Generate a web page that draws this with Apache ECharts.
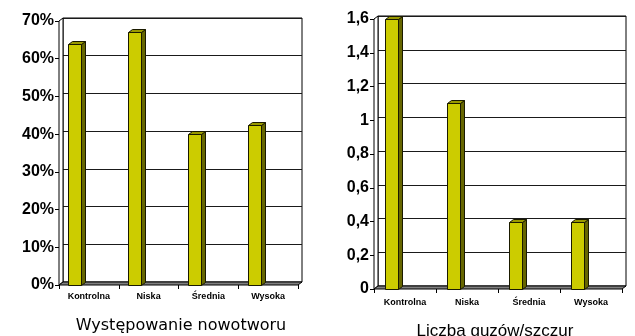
<!DOCTYPE html>
<html>
<head>
<meta charset="utf-8">
<script src="https://cdn.jsdelivr.net/npm/echarts@6/dist/echarts.min.js"></script>
<style>
  html, body { margin: 0; padding: 0; background: #fff; }
  #chart { width: 635px; height: 336px; }
</style>
</head>
<body>
<div id="chart"></div>
<script>
// Groups (doses)
const categories = ['Kontrolna', 'Niska', 'Średnia', 'Wysoka'];
// Tumour incidence per group (fraction)
const incidence = [0.64, 0.67, 0.40, 0.425];
// Number of tumours per rat
const tumorsPerRat = [1.6, 1.1, 0.4, 0.4];
// Axis ranges / tick steps
const incidenceAxis = { max: 0.7, step: 0.1 };
const tumorAxis = { max: 1.6, step: 0.2 };
// Titles under each panel
const titles = ['Występowanie nowotworu', 'Liczba guzów/szczur'];

// Pseudo-3D geometry
const DX = 4, DY = 3;      // depth offset of the back wall
const BAR_W = 13;          // front face width
const BAR_SHIFT = -14;     // bar offset from category centre

const FONT = 'Liberation Sans, Arial, sans-serif';

const frontGrids = [
  { left: 59, top: 21, width: 239, height: 264 },
  { left: 374, top: 19, width: 248, height: 270 }
];
const backGrids = frontGrids.map(g => ({
  left: g.left + DX, top: g.top - DY, width: g.width, height: g.height,
  show: true, borderColor: '#000', borderWidth: 1, backgroundColor: '#fff'
}));

function pctLabel(v) { return Math.round(v * 100) + '%'; }
function commaLabel(v) { return String(Math.round(v * 10) / 10).replace('.', ','); }

// Floor and left side wall of the 3D box
function renderBox(params) {
  const cs = params.coordSys;
  const x0 = cs.x, x1 = cs.x + cs.width, yt = cs.y, yb = cs.y + cs.height;
  return {
    type: 'group',
    children: [
      {
        type: 'polygon',
        shape: { points: [[x0, yt], [x0 + DX, yt - DY], [x0 + DX, yb - DY], [x0, yb]] },
        style: { fill: '#fff', stroke: '#000', lineWidth: 1 }
      },
      {
        type: 'polygon',
        shape: { points: [[x0, yb], [x1, yb], [x1 + DX, yb - DY], [x0 + DX, yb - DY]] },
        style: { fill: '#808080', stroke: '#000', lineWidth: 1 }
      }
    ]
  };
}

// 3D column: front face, top face and right side face
function renderBar(params, api) {
  const idx = api.value(0);
  const top = api.coord([idx, api.value(1)]);
  const base = api.coord([idx, 0]);
  const x = Math.round(top[0] + BAR_SHIFT - BAR_W / 2) + 0.5;
  const yT = Math.round(top[1]) + 0.5;
  const yB = Math.round(base[1]) + 0.5;
  const w = BAR_W;
  const stroke = '#1a1a00';
  return {
    type: 'group',
    children: [
      {
        type: 'polygon',
        shape: { points: [[x + w, yT], [x + w + DX, yT - DY], [x + w + DX, yB - DY], [x + w, yB]] },
        style: { fill: '#666600', stroke: stroke, lineWidth: 1 }
      },
      {
        type: 'polygon',
        shape: { points: [[x, yT], [x + DX, yT - DY], [x + w + DX, yT - DY], [x + w, yT]] },
        style: { fill: '#999900', stroke: stroke, lineWidth: 1 }
      },
      {
        type: 'rect',
        shape: { x: x, y: yT, width: w, height: yB - yT },
        style: { fill: '#cccc00', stroke: stroke, lineWidth: 1 }
      }
    ]
  };
}

function frontX(gridIndex, labelMargin) {
  return {
    type: 'category', gridIndex: gridIndex, data: categories,
    axisLine: { show: false },
    axisTick: { show: true, length: 4, lineStyle: { color: '#000' } },
    axisLabel: { color: '#000', fontFamily: FONT, fontWeight: 'bold', fontSize: 9, margin: labelMargin },
    splitLine: { show: false }
  };
}
function backX(gridIndex) {
  return {
    type: 'category', gridIndex: gridIndex, data: categories,
    axisLine: { show: false }, axisTick: { show: false }, axisLabel: { show: false },
    splitLine: { show: false }
  };
}
function frontY(gridIndex, ax, fmt) {
  return {
    type: 'value', gridIndex: gridIndex, min: 0, max: ax.max, interval: ax.step,
    axisLine: { show: true, lineStyle: { color: '#000', width: 1 } },
    axisTick: { show: true, inside: false, length: 4, lineStyle: { color: '#000' } },
    axisLabel: { color: '#000', fontFamily: FONT, fontWeight: 'bold', fontSize: 16, margin: 5, formatter: fmt },
    splitLine: { show: false }
  };
}
function backY(gridIndex, ax) {
  return {
    type: 'value', gridIndex: gridIndex, min: 0, max: ax.max, interval: ax.step,
    axisLine: { show: false }, axisTick: { show: false }, axisLabel: { show: false },
    splitLine: { show: true, lineStyle: { color: '#1a1a1a', width: 1 } }
  };
}

const chart = echarts.init(document.getElementById('chart'), null, { renderer: 'canvas' });

chart.setOption({
  animation: false,
  backgroundColor: '#fff',
  title: [
    {
      text: titles[0], left: 176, top: 313, textAlign: 'center',
      textStyle: { fontFamily: 'DejaVu Sans, sans-serif', fontWeight: 'normal', fontSize: 16, color: '#000' }
    },
    {
      text: titles[1], left: 490, top: 318, textAlign: 'center',
      textStyle: { fontFamily: FONT, fontWeight: 'normal', fontSize: 17, color: '#000' }
    }
  ],
  // grids 0,1 = back walls; grids 2,3 = front axes
  grid: [backGrids[0], backGrids[1], frontGrids[0], frontGrids[1]],
  xAxis: [backX(0), backX(1), frontX(2, 7), frontX(3, 9)],
  yAxis: [
    backY(0, incidenceAxis), backY(1, tumorAxis),
    frontY(2, incidenceAxis, pctLabel), frontY(3, tumorAxis, commaLabel)
  ],
  series: [
    {
      type: 'custom', xAxisIndex: 2, yAxisIndex: 2, z: 1, silent: true,
      renderItem: renderBox, data: [[0, 0]], clip: false
    },
    {
      type: 'custom', xAxisIndex: 3, yAxisIndex: 3, z: 1, silent: true,
      renderItem: renderBox, data: [[0, 0]], clip: false
    },
    {
      type: 'custom', xAxisIndex: 2, yAxisIndex: 2, z: 3,
      renderItem: renderBar, clip: false,
      encode: { x: 0, y: 1 },
      data: incidence.map((v, i) => [i, v])
    },
    {
      type: 'custom', xAxisIndex: 3, yAxisIndex: 3, z: 3,
      renderItem: renderBar, clip: false,
      encode: { x: 0, y: 1 },
      data: tumorsPerRat.map((v, i) => [i, v])
    }
  ]
});
</script>
</body>
</html>
